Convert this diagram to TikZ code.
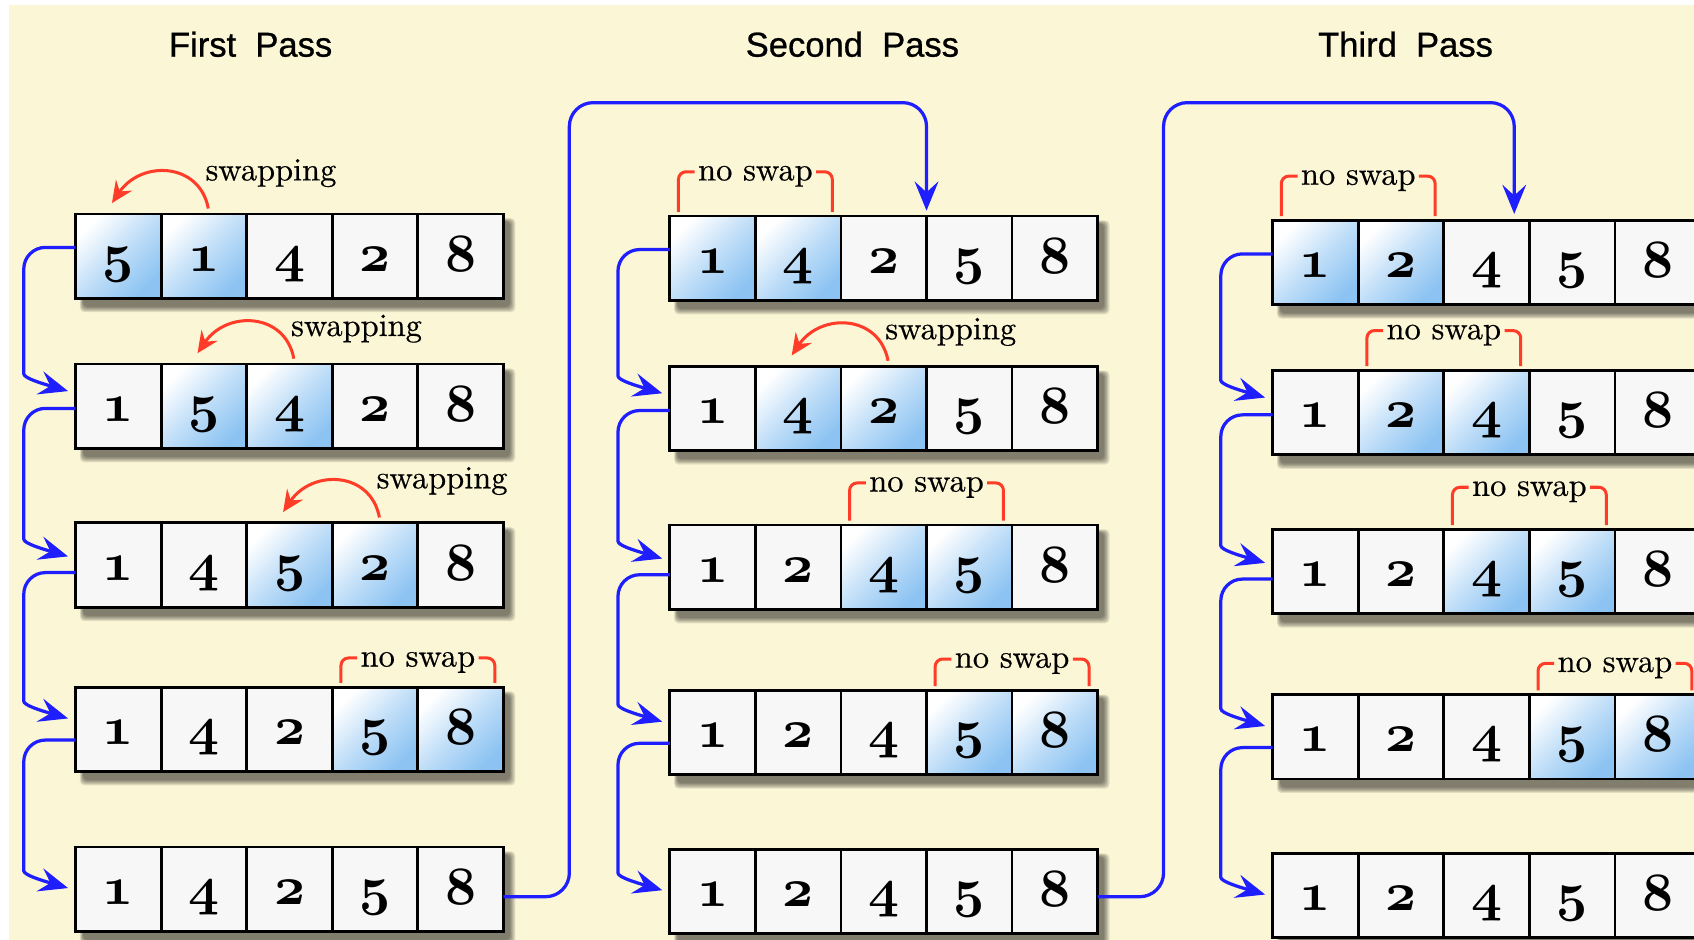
\documentclass[tikz,border=0pt]{standalone}
\usepackage{fontspec}
\usetikzlibrary{arrows.meta,calc}
\definecolor{bgc}{RGB}{251,247,214}
\definecolor{connblue}{RGB}{30,30,255}
\definecolor{swapred}{RGB}{255,60,40}
\definecolor{cellgray}{RGB}{247,247,247}
\definecolor{hlblue}{RGB}{140,195,242}
\newfontfamily\titlefam{Liberation Sans}[FakeBold=0.8]
\newfontfamily\lblfam{lmroman10-regular.otf}[FakeBold=0.5]
\font\osf=cmmib10 at 50pt
\newcommand\dg[1]{{\osf #1}}
\tikzset{
  cellbase/.style={draw=black, line width=2.6pt, rectangle, minimum width=79.2pt, minimum height=78pt,
    inner sep=0pt, outer sep=0pt, text height=40pt, text depth=12pt},
  nc/.style={cellbase, fill=cellgray},
  hc/.style={cellbase, top color=white, bottom color=hlblue, middle color=hlblue!55, shading angle=45},
  conn/.style={draw=connblue, line width=3pt, -{Stealth[length=27pt, width=22pt, inset=10pt]}},
  redarrow/.style={draw=swapred, line width=2.8pt, -{Stealth[length=20pt, width=18pt, inset=7pt]}},
  bracket/.style={draw=swapred, line width=2.8pt, rounded corners=7pt},
  lbl/.style={font=\lblfam\fontsize{30}{30}\selectfont, inner sep=0pt, inner xsep=3pt,
    text height=22pt, text depth=6pt, anchor=base},
  ttl/.style={font=\titlefam\fontsize{32}{32}\selectfont, inner sep=0pt}
}
\newcommand\bsShadow[2]{%
  \foreach \k in {0,...,5} {
    \fill[black, opacity=0.1, rounded corners=4pt] ({#1+4+\k*0.6},{#2+4+\k*0.6}) rectangle ({#1+407-\k},{#2+91-\k});
  }
}
\newcommand\bsRow[4]{%
  \bsShadow{#2}{#3}
  \foreach \v/\s [count=\i] in {#4} {
    \node[\s, anchor=north west] (#1c\i) at ({#2+(\i-1)*79.2},#3) {\dg{\v}};
  }
}
\newcommand\bsSwap[4]{%
  \coordinate (#1sa) at ($(#1c#3.north)+(4,-5)$);
  \coordinate (#1sb) at ($(#1c#2.north)+(-6,-10)$);
  \draw[redarrow] (#1sa) .. controls +(-8,-43) and +(27,-40) .. (#1sb);
  \node[lbl] (#1sw) at ($(#1c#3.north)+(62,-#4)$) {swapping};
}
\newcommand\bsNoSwap[4]{%
  \node[lbl] (#1ns) at ($(#1c#2.north east)+(0,-#4)$) {no swap};
  \draw[bracket] ($(#1c#2.north west)+(8,-4)$) |- (#1ns.west);
  \draw[bracket] (#1ns.east) -| ($(#1c#3.north east)+(-8,-4)$);
}
\newcommand\bsConn[4]{%
  \coordinate (o#1) at ($(#1.north west)+(0,#3)$);
  \coordinate (i#2) at ($(#2.north west)+(-7,#4)$);
  \draw[conn, rounded corners=20pt] (o#1) -| ($(i#2)+(-41,-36)$) [sharp corners] .. controls +(0,24) and +(-24,-7) .. (i#2);
}
\begin{document}
\begin{tikzpicture}[x=1pt,y=-1pt]
\useasboundingbox (0,0) rectangle (1568,870);
\clip (0,0) rectangle (1568,870);
\fill[white] (0,0) rectangle (1568,870);
\fill[bgc] (8,5) rectangle (1568,870);

\node[ttl] (t1) at (232,41) {First~~Pass};
\node[ttl] (t2) at (789,41) {Second~~Pass};
\node[ttl] (t3) at (1301,41) {Third~~Pass};

% first pass
\bsRow{p1r1}{70}{198}{5/hc,1/hc,4/nc,2/nc,8/nc}
\bsRow{p1r2}{70}{337}{1/nc,5/hc,4/hc,2/nc,8/nc}
\bsRow{p1r3}{70}{484}{1/nc,4/nc,5/hc,2/hc,8/nc}
\bsRow{p1r4}{70}{636}{1/nc,4/nc,2/nc,5/hc,8/hc}
\bsRow{p1r5}{70}{784}{1/nc,4/nc,2/nc,5/nc,8/nc}
% second pass
\bsRow{p2r1}{620}{200}{1/hc,4/hc,2/nc,5/nc,8/nc}
\bsRow{p2r2}{620}{339}{1/nc,4/hc,2/hc,5/nc,8/nc}
\bsRow{p2r3}{620}{486}{1/nc,2/nc,4/hc,5/hc,8/nc}
\bsRow{p2r4}{620}{639}{1/nc,2/nc,4/nc,5/hc,8/hc}
\bsRow{p2r5}{620}{786}{1/nc,2/nc,4/nc,5/nc,8/nc}
% third pass
\bsRow{p3r1}{1178}{204}{1/hc,2/hc,4/nc,5/nc,8/nc}
\bsRow{p3r2}{1178}{343}{1/nc,2/hc,4/hc,5/nc,8/nc}
\bsRow{p3r3}{1178}{490}{1/nc,2/nc,4/hc,5/hc,8/nc}
\bsRow{p3r4}{1178}{643}{1/nc,2/nc,4/nc,5/hc,8/hc}
\bsRow{p3r5}{1178}{790}{1/nc,2/nc,4/nc,5/nc,8/nc}

% labels
\bsSwap{p1r1}{1}{2}{31}
\bsSwap{p1r2}{2}{3}{26}
\bsSwap{p1r3}{3}{4}{32}
\bsNoSwap{p1r4}{4}{5}{19}
\bsNoSwap{p2r1}{1}{2}{33}
\bsSwap{p2r2}{2}{3}{25}
\bsNoSwap{p2r3}{3}{4}{31}
\bsNoSwap{p2r4}{4}{5}{21}
\bsNoSwap{p3r1}{1}{2}{33}
\bsNoSwap{p3r2}{2}{3}{29}
\bsNoSwap{p3r3}{3}{4}{31}
\bsNoSwap{p3r4}{4}{5}{21}

% connectors within passes
\bsConn{p1r1c1}{p1r2c1}{31}{25}
\bsConn{p1r2c1}{p1r3c1}{41}{31}
\bsConn{p1r3c1}{p1r4c1}{46}{29}
\bsConn{p1r4c1}{p1r5c1}{49}{38}
\bsConn{p2r1c1}{p2r2c1}{31}{25}
\bsConn{p2r2c1}{p2r3c1}{41}{31}
\bsConn{p2r3c1}{p2r4c1}{46}{29}
\bsConn{p2r4c1}{p2r5c1}{49}{38}
\bsConn{p3r1c1}{p3r2c1}{31}{25}
\bsConn{p3r2c1}{p3r3c1}{41}{31}
\bsConn{p3r3c1}{p3r4c1}{46}{29}
\bsConn{p3r4c1}{p3r5c1}{49}{38}

% connectors between passes
\coordinate (l1top) at (527,95);
\coordinate (l2top) at (1077,95);
\draw[conn, rounded corners=22pt] ($(p1r5c5.north east)+(0,46)$) -| (l1top) -| ($(p2r1c4.north west)+(0,-5)$);
\draw[conn, rounded corners=22pt] ($(p2r5c5.north east)+(0,44)$) -| (l2top) -| ($(p3r1c3.north east)+(-14,-6)$);
\end{tikzpicture}
\end{document}
